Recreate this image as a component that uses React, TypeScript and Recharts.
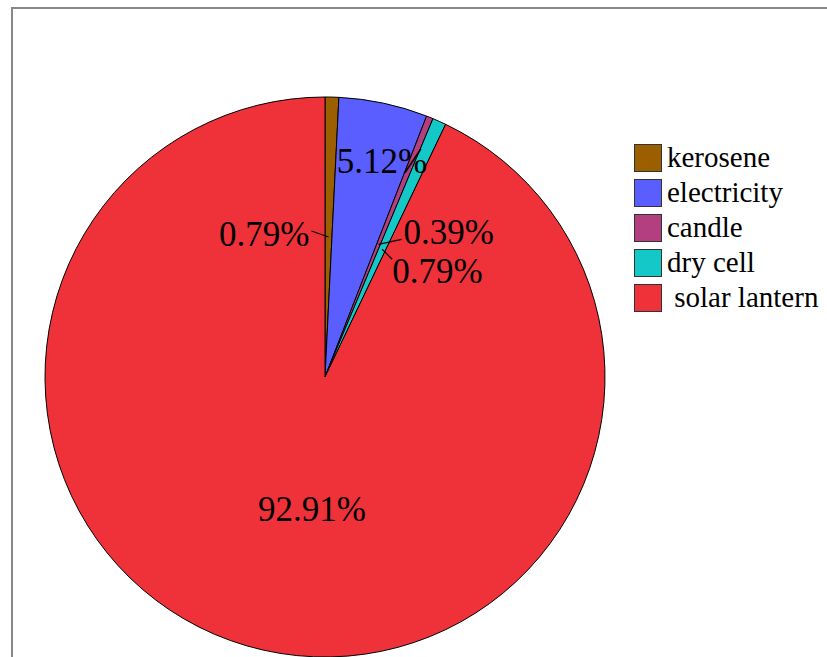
import { PieChart, Pie, Cell } from 'recharts';

const sources = ['kerosene', 'electricity', 'candle', 'dry cell', 'solar lantern'];
const shares = [0.79, 5.12, 0.39, 0.79, 92.91];
const colors = ['#9B5F00', '#5A5EFF', '#B43F80', '#14C8C8', '#EF323A'];

const data = sources.map((name, i) => ({ name, value: shares[i] }));

const RAD = Math.PI / 180;
const FONT = '"Liberation Serif", Tinos, "Nimbus Roman", FreeSerif, "Noto Serif", "DejaVu Serif", Times, serif';

// where each label sits: anchor radius along the slice mid-angle, then text offset and optional leader
const labelLayout = [
  { r: 140, tx: -19, ty: -3, anchor: 'end', lead: [-17, -6] },
  { r: 220, tx: 11, ty: 0, anchor: 'middle', lead: null },
  { r: 143, tx: 25, ty: -12, anchor: 'start', lead: [23, -5] },
  { r: 140, tx: 10, ty: 22, anchor: 'start', lead: [10, 10] },
  { r: 140, tx: 18, ty: -4, anchor: 'middle', lead: null },
];

function renderLabel(props: any) {
  const { cx, cy, midAngle, index, value } = props;
  const cfg = labelLayout[index];
  const ax = cx + cfg.r * Math.cos(-midAngle * RAD);
  const ay = cy + cfg.r * Math.sin(-midAngle * RAD);
  return (
    <g key={`lbl-${index}`}>
      {cfg.lead && (
        <line x1={ax} y1={ay} x2={ax + cfg.lead[0]} y2={ay + cfg.lead[1]} stroke="#000" strokeWidth={1.2} />
      )}
      <text
        x={ax + cfg.tx}
        y={ay + cfg.ty}
        textAnchor={cfg.anchor}
        dominantBaseline="central"
        style={{ fontFamily: FONT }}
        fontSize={35}
        fill="#000"
      >
        {value.toFixed(2)}%
      </text>
    </g>
  );
}

function LegendBox() {
  return (
    <div style={{ position: 'absolute', left: 634, top: 140, fontFamily: FONT, fontSize: 29, color: '#000' }}>
      {sources.map((s, i) => (
        <div key={s} style={{ display: 'flex', alignItems: 'center', height: 35 }}>
          <span
            style={{
              width: 26,
              height: 26,
              background: colors[i],
              border: '1px solid #333',
              marginRight: 5,
              flexShrink: 0,
            }}
          />
          <span style={{ whiteSpace: 'pre' }}>{i === 4 ? ' ' + s : s}</span>
        </div>
      ))}
    </div>
  );
}

export default function App() {
  return (
    <div style={{ position: 'absolute', left: 0, top: 0, width: 827, height: 657, background: '#fff', overflow: 'hidden' }}>
      <div style={{ position: 'absolute', left: 11, top: 7, width: 830, height: 660, borderTop: '2px solid #888', borderLeft: '2px solid #888' }} />
      <div style={{ position: 'absolute', left: 0, top: 0 }}>
        <PieChart width={827} height={657}>
          <Pie
            data={data}
            dataKey="value"
            nameKey="name"
            cx={320}
            cy={372}
            outerRadius={280}
            startAngle={90}
            endAngle={-270}
            stroke="#000"
            strokeWidth={1}
            label={renderLabel}
            labelLine={false}
            isAnimationActive={false}
          >
            {data.map((d, i) => (
              <Cell key={d.name} fill={colors[i]} />
            ))}
          </Pie>
        </PieChart>
      </div>
      <LegendBox />
    </div>
  );
}
